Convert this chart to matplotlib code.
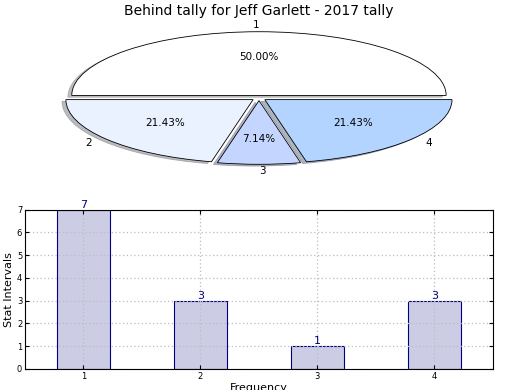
import numpy as np
import matplotlib
matplotlib.use('Agg')
import matplotlib.pyplot as plt

# data
labels = ['1', '2', '3', '4']
counts = [7, 3, 1, 3]
pie_colors = ['#ffffff', '#ebf2ff', '#c4d6ff', '#b3d4ff']
explode = [0.04, 0.04, 0.04, 0.04]
title = 'Behind tally for Jeff Garlett - 2017 tally'

fig = plt.figure(figsize=(5.2, 3.9), dpi=100)
fig.subplots_adjust(left=0.048, right=0.948, top=0.953, bottom=0.054, hspace=0.2)

# pie on top
ax1 = fig.add_subplot(2, 1, 1)
wedges, texts, autotexts = ax1.pie(counts, labels=labels, colors=pie_colors,
                                   explode=explode, shadow={'ox': -0.015, 'oy': -0.02, 'shade': 0.5},
                                   startangle=0, autopct='%1.2f%%',
                                   wedgeprops={'edgecolor': 'black', 'linewidth': 0.6},
                                   textprops={'fontsize': 7.5})
ax1.set_aspect('auto')
ax1.set_title(title, fontsize=10, pad=2)

# bars below
ax2 = fig.add_subplot(2, 1, 2)
x = np.arange(1, len(counts) + 1)
ax2.bar(x, counts, width=0.45, color=(0, 0, 0.5, 0.2), edgecolor='navy', linewidth=0.8)
for xi, c in zip(x, counts):
    ax2.text(xi, c, str(c), ha='center', va='bottom', color='navy', fontsize=8)
ax2.set_xlim(0.5, 4.5)
ax2.set_ylim(0, 7)
ax2.set_xticks(x)
ax2.set_yticks(range(0, 8))
ax2.tick_params(direction='in', labelsize=6, top=True, right=True, length=3, pad=2)
ax2.grid(True, linestyle=(0, (1, 2)), color='#bdbdbd', linewidth=0.9)
ax2.set_ylabel('Stat Intervals', fontsize=8, labelpad=2)
ax2.set_xlabel('Frequency', fontsize=8, labelpad=2)

fig.savefig('out.png', dpi=100)
